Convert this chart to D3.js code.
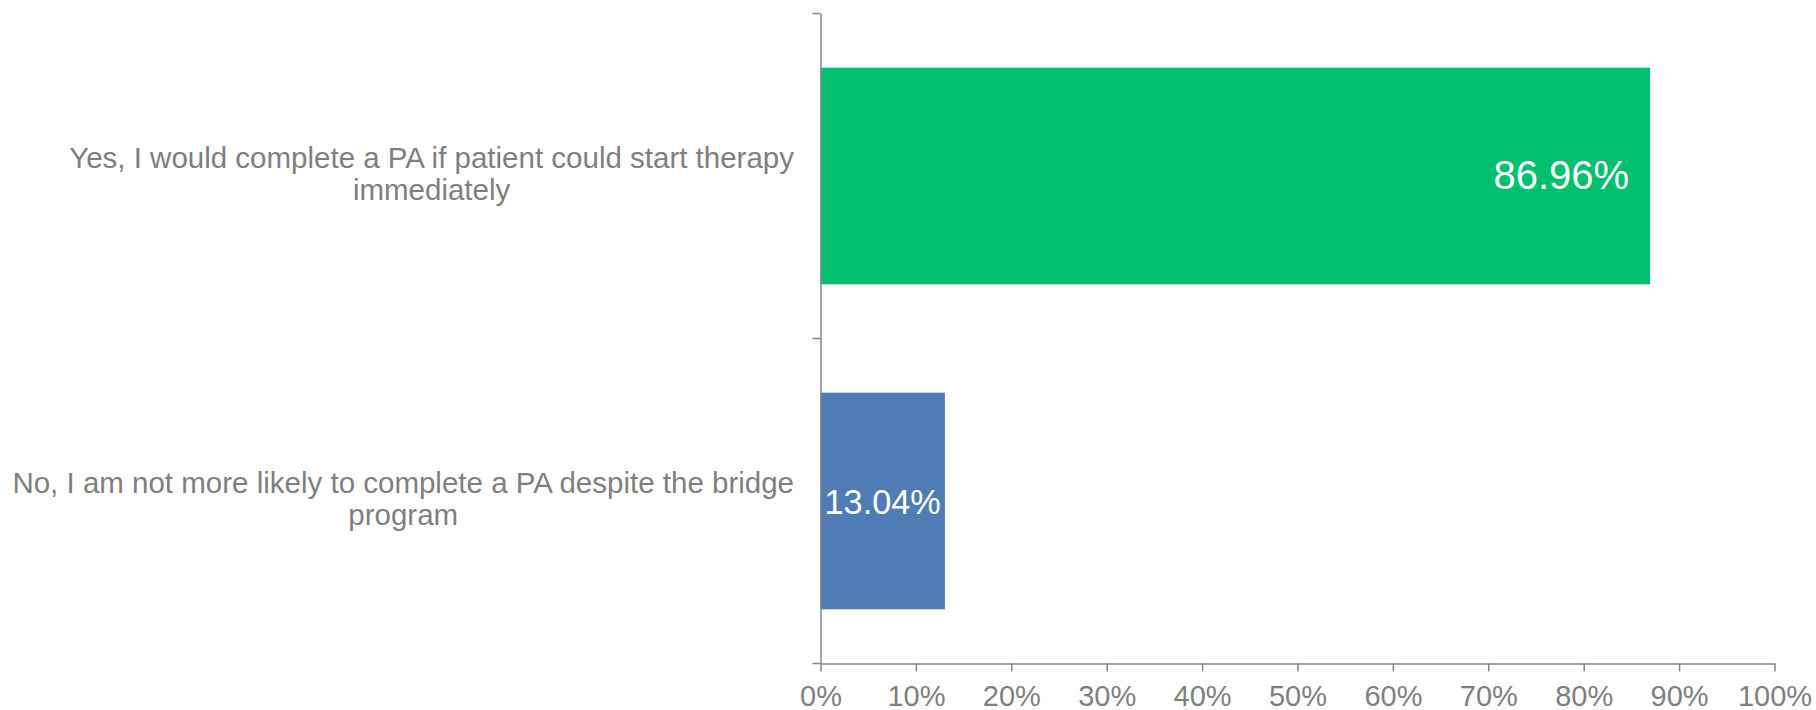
<!DOCTYPE html>
<html>
<head>
<meta charset="utf-8">
<script src="https://cdn.jsdelivr.net/npm/d3@7"></script>
<style>
  html, body { margin: 0; padding: 0; background: #fff; }
  svg { display: block; }
  text { font-family: "Liberation Sans", Arial, sans-serif; }
</style>
</head>
<body>
<svg id="chart" width="1816" height="710"></svg>
<script>
const categories = [
  "Yes, I would complete a PA if patient could start therapy immediately",
  "No, I am not more likely to complete a PA despite the bridge program"
];
const values = [0.8696, 0.1304];
const barColors = ["#00bf6f", "#4f7cb4"];
const tickValues = [0, 0.1, 0.2, 0.3, 0.4, 0.5, 0.6, 0.7, 0.8, 0.9, 1.0];

const data = categories.map((c, i) => ({ cat: c, value: values[i], color: barColors[i] }));

const svg = d3.select("#chart");
const mLeft = 820.5, mRight = 1774.5, mTop = 13.5, mBottom = 663.5;
const axisColor = "#868686";
const textColor = "#7f7f7f";

const x = d3.scaleLinear().domain([0, 1]).range([mLeft, mRight]);
const y = d3.scaleBand().domain(categories).range([mTop, mBottom])
  .paddingInner(1/3).paddingOuter(1/6);

// bars
svg.append("g").selectAll("rect").data(data).join("rect")
  .attr("x", x(0))
  .attr("y", d => y(d.cat))
  .attr("width", d => x(d.value) - x(0))
  .attr("height", y.bandwidth())
  .attr("fill", d => d.color);

// x axis
const xAxis = svg.append("g")
  .attr("transform", `translate(0,${mBottom})`)
  .call(d3.axisBottom(x).tickValues(tickValues).tickFormat(d3.format(".0%"))
    .tickSizeInner(8).tickSizeOuter(0));
xAxis.select(".domain").attr("stroke", axisColor).attr("stroke-width", 1.5);
xAxis.selectAll(".tick line").attr("stroke", axisColor).attr("stroke-width", 1.5);
xAxis.selectAll(".tick text")
  .attr("fill", textColor).attr("font-size", 29).attr("y", 42).attr("dy", null)
  .style("font-family", "'Liberation Sans', Arial, sans-serif");

// y axis (line + category boundary ticks)
const yAxis = svg.append("g").attr("transform", `translate(${mLeft},0)`)
  .call(d3.axisLeft(y).tickSize(0).tickFormat(""));
yAxis.select(".domain").attr("stroke", axisColor).attr("stroke-width", 1.5);
yAxis.selectAll(".tick").remove();
const bounds = d3.range(categories.length + 1).map(i => y.range()[0] + i * y.step());
yAxis.selectAll("line.bt").data(bounds).join("line")
  .attr("class", "bt")
  .attr("x1", -8).attr("x2", 0)
  .attr("y1", d => d).attr("y2", d => d)
  .attr("stroke", axisColor).attr("stroke-width", 1.5);

// category labels (wrapped, block right-aligned, lines centered)
const labelSize = 29.5, lineH = 32.4, labelRight = 794, wrapW = 830;
const measure = svg.append("text").attr("font-size", labelSize).attr("visibility", "hidden");
function wrap(str) {
  const words = str.split(" ");
  const lines = [];
  let cur = "";
  for (const w of words) {
    const t = cur ? cur + " " + w : w;
    measure.text(t);
    if (measure.node().getComputedTextLength() > wrapW && cur) { lines.push(cur); cur = w; }
    else cur = t;
  }
  if (cur) lines.push(cur);
  return lines;
}
data.forEach(d => {
  const lines = wrap(d.cat);
  const widths = lines.map(l => { measure.text(l); return measure.node().getComputedTextLength(); });
  const maxW = d3.max(widths);
  const cx = labelRight - maxW / 2;
  const cy = y(d.cat) + y.bandwidth() / 2;
  const t = svg.append("text")
    .attr("font-size", labelSize).attr("fill", textColor).attr("text-anchor", "middle");
  lines.forEach((l, i) => {
    t.append("tspan").attr("x", cx)
      .attr("y", cy - (lines.length - 1) * lineH / 2 + i * lineH + labelSize * 0.28)
      .text(l);
  });
});
measure.remove();

// data labels: inside end; shrink and centre when the bar is too short
const dlSize = 40, dlMargin = 21;
svg.append("g").selectAll("text").data(data).join("text")
  .attr("fill", "#fff")
  .text(d => d3.format(".2f")(d.value * 100) + "%")
  .each(function(d) {
    const el = d3.select(this).attr("font-size", dlSize);
    const w = this.getComputedTextLength();
    const barW = x(d.value) - x(0);
    const cy = y(d.cat) + y.bandwidth() / 2;
    if (w + 2 * dlMargin <= barW) {
      el.attr("text-anchor", "end").attr("x", x(d.value) - dlMargin)
        .attr("y", cy + dlSize * 0.33);
    } else {
      const s = dlSize * (barW - 8) / w;
      el.attr("font-size", s).attr("text-anchor", "middle")
        .attr("x", x(0) + barW / 2).attr("y", cy + s * 0.37);
    }
  });
</script>
</body>
</html>
